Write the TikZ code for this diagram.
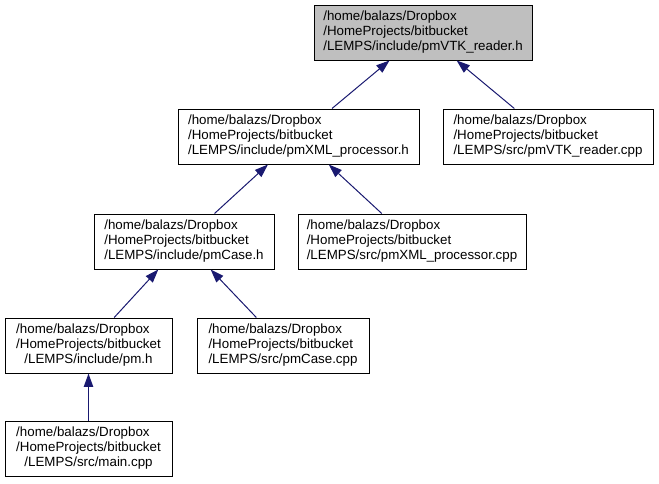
\documentclass[tikz,border=0pt]{standalone}
\usepackage{fontspec}
\setmainfont{Liberation Sans}
\usetikzlibrary{arrows.meta}
\definecolor{edgeblue}{HTML}{191970}
\definecolor{hdrgray}{HTML}{BFBFBF}
\newcommand{\fname}[3]{\begin{tabular}{@{}l@{}}#1\\#2\\\multicolumn{1}{@{}c@{}}{#3}\end{tabular}}
\begin{document}
\begin{tikzpicture}[x=0.75pt, y=-0.75pt,
  filebox/.style={draw=black, line width=0.75pt, inner sep=0pt, minimum height=41.25pt, font=\fontsize{10}{11.4}\selectfont},
  dep/.style={draw=edgeblue, line width=0.75pt, -{Triangle[length=10pt, width=7pt]}}]
  \useasboundingbox (0, 0) rectangle (659, 483);
  \node (vtkh) at (423, 32.5) [filebox, fill=hdrgray, minimum width=163.5pt] {\fname{/home/balazs/Dropbox}{/HomeProjects/bitbucket}{/LEMPS/include/pmVTK\_reader.h}};
  \node (xmlh) at (298.5, 136.5) [filebox, minimum width=180.75pt] {\fname{/home/balazs/Dropbox}{/HomeProjects/bitbucket}{/LEMPS/include/pmXML\_processor.h}};
  \node (vtkcpp) at (548, 136.5) [filebox, minimum width=157.5pt] {\fname{/home/balazs/Dropbox}{/HomeProjects/bitbucket}{/LEMPS/src/pmVTK\_reader.cpp}};
  \node (caseh) at (184, 241.5) [filebox, minimum width=135pt] {\fname{/home/balazs/Dropbox}{/HomeProjects/bitbucket}{/LEMPS/include/pmCase.h}};
  \node (xmlcpp) at (412, 241.5) [filebox, minimum width=171pt] {\fname{/home/balazs/Dropbox}{/HomeProjects/bitbucket}{/LEMPS/src/pmXML\_processor.cpp}};
  \node (pmh) at (88.5, 345.5) [filebox, minimum width=125.25pt] {\fname{/home/balazs/Dropbox}{/HomeProjects/bitbucket}{/LEMPS/include/pm.h}};
  \node (casecpp) at (283, 345.5) [filebox, minimum width=129pt] {\fname{/home/balazs/Dropbox}{/HomeProjects/bitbucket}{/LEMPS/src/pmCase.cpp}};
  \node (maincpp) at (88.5, 448.5) [filebox, minimum width=125.25pt] {\fname{/home/balazs/Dropbox}{/HomeProjects/bitbucket}{/LEMPS/src/main.cpp}};
  \draw[dep] (xmlh) -- (vtkh);
  \draw[dep] (vtkcpp) -- (vtkh);
  \draw[dep] (caseh) -- (xmlh);
  \draw[dep] (xmlcpp) -- (xmlh);
  \draw[dep] (pmh) -- (caseh);
  \draw[dep] (casecpp) -- (caseh);
  \draw[dep] (maincpp) -- (pmh);
\end{tikzpicture}
\end{document}
